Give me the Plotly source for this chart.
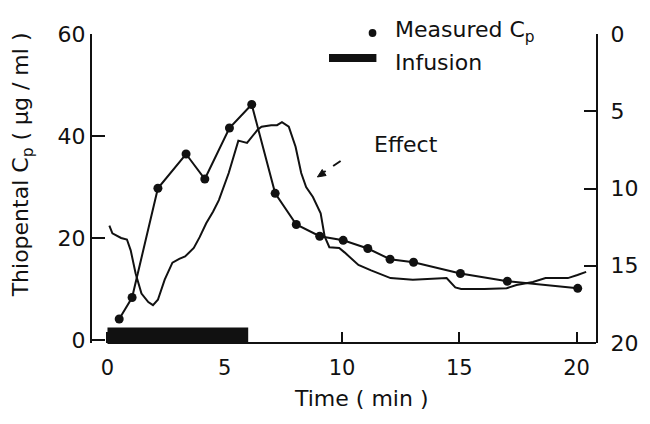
import plotly.graph_objects as go

# Measured thiopental plasma concentration (µg/ml) vs time (min)
cp_time = [0.5, 1.05, 2.15, 3.35, 4.15, 5.2, 6.15, 7.15, 8.05, 9.05, 10.05,
           11.1, 12.05, 13.05, 15.05, 17.05, 20.05]
cp_value = [4.2, 8.4, 29.8, 36.5, 31.6, 41.6, 46.2, 28.8, 22.7, 20.4, 19.6,
            18.0, 15.9, 15.3, 13.1, 11.6, 10.2]

# EEG effect trace (right axis, inverted scale)
effect_time = [0.08, 0.21, 0.58, 0.83, 0.99, 1.2, 1.45, 1.74, 1.94, 2.15, 2.44,
               2.77, 3.06, 3.31, 3.68, 3.93, 4.21, 4.5, 4.75, 5.17, 5.58, 5.95,
               6.4, 6.57, 6.98, 7.23, 7.44, 7.73, 8.02, 8.26, 8.47, 8.76, 9.09,
               9.26, 9.46, 9.88, 10.12, 10.7, 11.24, 12.07, 13.02, 14.0, 14.46,
               14.83, 15.08, 16.07, 17.02, 17.44, 18.14, 18.68, 19.63, 20.04, 20.41]
effect_value = [12.4, 12.9, 13.2, 13.3, 14.0, 15.5, 16.8, 17.35, 17.55, 17.2, 15.9,
                14.8, 14.55, 14.4, 13.85, 13.15, 12.25, 11.5, 10.75, 9.0, 6.9, 7.05,
                6.2, 6.0, 5.9, 5.9, 5.7, 6.0, 7.3, 9.0, 9.9, 10.55, 11.6,
                13.1, 13.8, 13.85, 14.15, 14.95, 15.3, 15.8, 15.9, 15.8, 15.8,
                16.4, 16.5, 16.5, 16.45, 16.25, 16.05, 15.8, 15.8, 15.6, 15.4]

# Infusion period (min)
infusion_start = [0]
infusion_end = [6]

# Axis ticks
time_ticks = [0, 5, 10, 15, 20]
cp_ticks = [0, 20, 40, 60]
effect_ticks = [0, 5, 10, 15, 20]

INK = "#111111"
FONT = "DejaVu Sans"

X_RANGE = [-0.66, 20.83]

# plot area in pixels: left 92, right 613, top 34, bottom 343
PL, PR, PT, PB = 92, 613, 34, 343


def paper(px, py):
    """Convert a pixel position on the page to paper coordinates."""
    return (px - PL) / (PR - PL), (PB - py) / (PB - PT)


def font(size):
    return dict(family=FONT, size=size, color=INK)


fig = go.Figure()

fig.add_trace(go.Scatter(
    x=cp_time, y=cp_value, mode="lines+markers",
    line=dict(color=INK, width=2),
    marker=dict(color=INK, size=9),
    name="Measured Cp", showlegend=False, yaxis="y",
))

fig.add_trace(go.Scatter(
    x=effect_time, y=effect_value, mode="lines",
    line=dict(color=INK, width=2),
    name="Effect", showlegend=False, yaxis="y2",
))

# Infusion bar sitting on the time axis
for s, e in zip(infusion_start, infusion_end):
    fig.add_shape(type="rect", xref="x", yref="y", x0=s, x1=e,
                  ysizemode="pixel", yanchor=0, y0=-2, y1=13,
                  fillcolor=INK, line=dict(width=0), layer="below")

# Time axis line starts at t = 0
fig.add_shape(type="line", xref="x", yref="paper", x0=0, x1=X_RANGE[1],
              y0=0, y1=0, line=dict(color=INK, width=2))

# Legend drawn by hand
cx0, cy0 = paper(378, 37)
cx1, cy1 = paper(386, 29)
fig.add_shape(type="circle", xref="paper", yref="paper",
              x0=cx0, x1=cx1, y0=cy0, y1=cy1,
              fillcolor=INK, line=dict(width=0))
bx0, by0 = paper(337, 62)
bx1, by1 = paper(386, 54)
fig.add_shape(type="rect", xref="paper", yref="paper",
              x0=bx0, x1=bx1, y0=by0, y1=by1,
              fillcolor=INK, line=dict(width=0))

# Dashed pointer to the effect curve, with a solid head
sx0, sy0 = paper(349, 161)
sx1, sy1 = paper(332, 172)
fig.add_shape(type="line", xref="paper", yref="paper",
              x0=sx0, x1=sx1, y0=sy0, y1=sy1,
              line=dict(color=INK, width=2, dash="dash"))
head = [paper(325, 177), paper(334, 175.5), paper(330, 169.5)]
fig.add_shape(type="path", xref="paper", yref="paper",
              path="M {} L {} L {} Z".format(*["{:.5f},{:.5f}".format(*p) for p in head]),
              fillcolor=INK, line=dict(color=INK, width=1))


def label(text, px, py, xanchor="left", angle=0, size=22):
    x, y = paper(px, py)
    return dict(text=text, x=x, y=y, xref="paper", yref="paper",
                xanchor=xanchor, yanchor="middle", textangle=angle,
                showarrow=False, font=font(size))


fig.update_layout(annotations=[
    label("Measured C<sub>p</sub>", 403, 31),
    label("Infusion", 403, 62),
    label("Effect", 381, 144),
    label("Thiopental C<sub>p</sub> ( µg / ml )", 20, 165, "center", -90),
    label("Time ( min )", 370, 398, "center"),
])

axis_common = dict(ticks="inside", tickwidth=2, tickcolor=INK,
                   showgrid=False, zeroline=False)

fig.update_layout(
    width=650, height=424,
    margin=dict(l=PL, r=650 - PR, t=PT, b=424 - PB),
    paper_bgcolor="white", plot_bgcolor="white",
    font=font(22),
    xaxis=dict(range=X_RANGE, tickvals=time_ticks, ticklen=11, showline=False,
               ticklabelstandoff=10, tickfont=font(21), **axis_common),
    yaxis=dict(range=[-0.5, 60], tickvals=cp_ticks, ticklen=13,
               showline=True, linecolor=INK, linewidth=2,
               tickfont=font(22), **axis_common),
    yaxis2=dict(range=[20, 0], tickvals=effect_ticks, ticklen=12,
                overlaying="y", side="right", ticklabelstandoff=8,
                showline=True, linecolor=INK, linewidth=2,
                tickfont=font(22), **axis_common),
    showlegend=False,
)

fig.write_html("out.html")
